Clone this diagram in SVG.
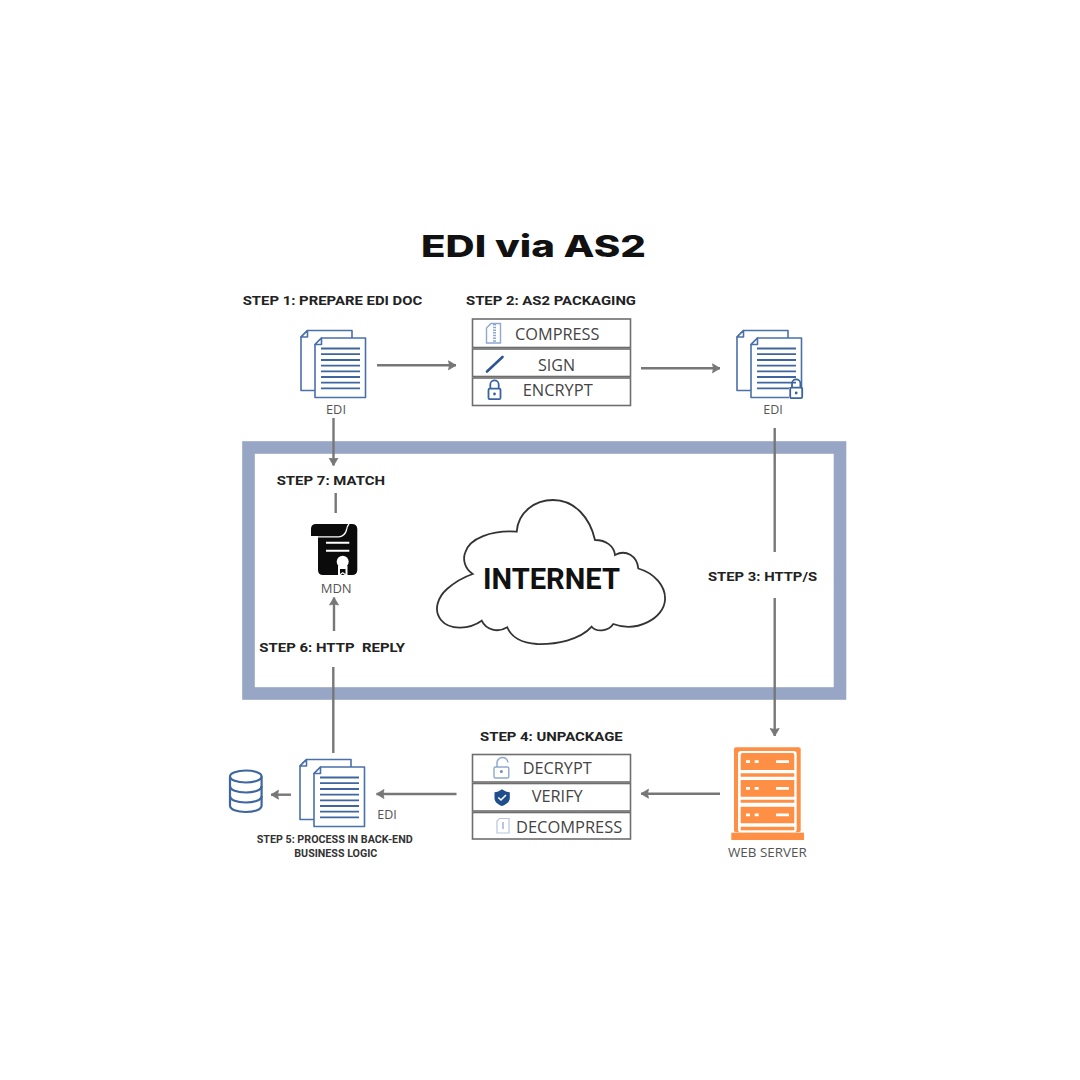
<svg xmlns="http://www.w3.org/2000/svg" width="1080" height="1080" viewBox="0 0 1080 1080">
<style>
.step{font-family:"Roboto","Liberation Sans",sans-serif;font-weight:700;font-size:13.6px;fill:#222;white-space:pre}
.small{font-family:"Roboto","Liberation Sans",sans-serif;font-weight:700;font-size:10px;fill:#333}
.cap{font-family:"Open Sans","Liberation Sans",sans-serif;font-size:12px;fill:#555}
.row{font-family:"Open Sans","Liberation Sans",sans-serif;font-size:16px;fill:#444}
.box{fill:#fff;stroke:#6e6e6e;stroke-width:1.6}
.conn{fill:none;stroke:#777;stroke-width:2.4}
.page{fill:#fff;stroke:#4a70aa;stroke-width:1.6;stroke-linejoin:round}
.rule{stroke:#3f669f;stroke-width:1.8}
.light{fill:#fff;stroke:#8ea8cf;stroke-width:1.4}
</style>
<defs>
<marker id="arrow" markerUnits="userSpaceOnUse" markerWidth="10" markerHeight="12" refX="8" refY="5" orient="auto">
<path d="M0.500 0.500L8 5L0.500 9.500L1.500 5Z" fill="#777" stroke="#777" stroke-width="0.800" stroke-linejoin="round"/>
</marker>
<symbol id="doc" overflow="visible" viewBox="0 0 1080 1080" width="1080" height="1080">
<path class="page" d="M307.500 330.500H352V390.500H301V337Z"/>
<path class="page" d="M307.500 330.500V337H301Z"/>
<path class="page" d="M321.500 338H365.500V397.500H315V344.500Z"/>
<path class="page" d="M321.500 338V344.500H315Z"/>
<path class="rule" d="M321 348.500H360M321 354.200H360M321 360H360M321 365.700H360M321 371.400H360M321 377H360M321 382.700H360M321 388.400H360"/>
</symbol>
<symbol id="lock" overflow="visible" viewBox="0 0 1080 1080" width="1080" height="1080">
<path d="M-4.200 1V-3.400A4.200 4.200 0 0 1 4.200 -3.400V1" fill="none" stroke="#3a63a0" stroke-width="1.800"/>
<rect x="-6" y="0.600" width="12" height="10.600" rx="1.400" fill="#fff" stroke="#3a63a0" stroke-width="1.800"/>
<circle cx="0" cy="6" r="1.400" fill="#3a63a0"/>
</symbol>
</defs>
<rect width="1080" height="1080" fill="#fff"/>
<g id="title"><text x="421" y="256.500" font-family="Inter,'Liberation Sans',sans-serif" font-weight="800" font-size="30" fill="#111" textLength="225" lengthAdjust="spacingAndGlyphs">EDI via AS2</text></g>
<g id="internet-frame"><rect x="248.500" y="447.500" width="591.500" height="246" fill="#fff" stroke="#97a6c4" stroke-width="12.600"/></g>
<g id="cloud">
<path d="M472.700 574C464 568 463 559 465 553C469 538 492 530 516.700 531.700C518 512 535 500 553 500C575 500 590 518 595 540C606 540 614 546 615 555C626 549 637 556 638.300 568.500C654 573 666 586 665 600C664 618 637 633 613.300 624C608 632 596 632 591.700 626.700C580 640 556 644.500 537 644C522 643 511 637 507.300 627.300C498 633 486 630 481.700 620.700C470 629 450 631 441 620C433 610 438 597 447 589C455 582 464 577 472.700 574Z" fill="#fff" stroke="#333" stroke-width="1.800"/>
<text x="483" y="588.500" font-family="Roboto,'Liberation Sans',sans-serif" font-weight="700" font-size="29.500" fill="#111" textLength="137" lengthAdjust="spacingAndGlyphs">INTERNET</text>
</g>
<g id="connectors">
<path class="conn" d="M377 365.300H456" marker-end="url(#arrow)"/>
<path class="conn" d="M641 368.300H720" marker-end="url(#arrow)"/>
<path class="conn" d="M774.700 428V552"/>
<path class="conn" d="M774.700 598V736" marker-end="url(#arrow)"/>
<path class="conn" d="M720 793.700H641" marker-end="url(#arrow)"/>
<path class="conn" d="M456.500 794H376.500" marker-end="url(#arrow)"/>
<path class="conn" d="M291 794.700H271" marker-end="url(#arrow)"/>
<path class="conn" d="M333.300 753V667"/>
<path class="conn" d="M334 631V597.500" marker-end="url(#arrow)"/>
<path class="conn" d="M333.500 418V465.500" marker-end="url(#arrow)"/>
<path class="conn" d="M335.700 493V513"/>
</g>
<g id="step1">
<text class="step" x="242.700" y="305" textLength="179.600" lengthAdjust="spacingAndGlyphs">STEP 1: PREPARE EDI DOC</text>
<use href="#doc"/>
<text class="cap" x="326" y="414" textLength="20" lengthAdjust="spacingAndGlyphs">EDI</text>
</g>
<g id="step2">
<text class="step" x="466" y="305" textLength="170" lengthAdjust="spacingAndGlyphs">STEP 2: AS2 PACKAGING</text>
<rect class="box" x="472.500" y="319" width="158" height="28.500"/>
<rect class="box" x="472.500" y="349" width="158" height="27.500"/>
<rect class="box" x="472.500" y="378" width="158" height="27.500"/>
<path class="light" d="M491 323.500H500.500V343H486.500V328Z"/>
<path d="M494.500 324V343" stroke="#8ea8cf" stroke-width="3" stroke-dasharray="1.500 1.200"/>
<path d="M487 371.500L502.500 357" stroke="#2f5597" stroke-width="2.600" stroke-linecap="round"/>
<use href="#lock" x="494.500" y="388"/>
<text class="row" x="515" y="339.500" textLength="84.500" lengthAdjust="spacingAndGlyphs">COMPRESS</text>
<text class="row" x="538" y="371" textLength="37" lengthAdjust="spacingAndGlyphs">SIGN</text>
<text class="row" x="522.700" y="396" textLength="70" lengthAdjust="spacingAndGlyphs">ENCRYPT</text>
</g>
<g id="encrypted-edi">
<use href="#doc" x="436"/>
<rect x="789" y="388" width="14" height="11" fill="#fff"/>
<use href="#lock" x="796.200" y="387"/>
<text class="cap" x="763.300" y="414" textLength="19.500" lengthAdjust="spacingAndGlyphs">EDI</text>
</g>
<g id="step7"><text class="step" x="276.700" y="485" textLength="108.300" lengthAdjust="spacingAndGlyphs">STEP 7: MATCH</text></g>
<g id="mdn">
<path d="M311 536V529Q311 524 316 524H352Q357 524 357.300 529V570Q357.300 575 352 575H323Q318 575 318 570V536Z" fill="#0b0b0b"/>
<path d="M317 536.800H339Q345 536 346.500 530Q347 526 349 524" fill="none" stroke="#fff" stroke-width="1.300"/>
<path d="M326 542.700H349.300M326 550.700H349.300" stroke="#fff" stroke-width="2"/>
<circle cx="342.700" cy="561.700" r="6" fill="#fff"/>
<path d="M338 566V577L342.700 573.500L347.500 577V566Z" fill="#fff"/>
<path d="M340 569V574L342.700 572L345.500 574V569Z" fill="#0b0b0b"/>
<text class="cap" x="320.700" y="593" textLength="31" lengthAdjust="spacingAndGlyphs">MDN</text>
</g>
<g id="step6"><text class="step" x="259.300" y="652.300" textLength="145.700" lengthAdjust="spacingAndGlyphs" xml:space="preserve">STEP 6: HTTP  REPLY</text></g>
<g id="step3"><text class="step" x="708" y="581" textLength="109" lengthAdjust="spacingAndGlyphs">STEP 3: HTTP/S</text></g>
<g id="web-server">
<rect x="734" y="747.300" width="66.700" height="85" rx="2" fill="#ff8f44"/>
<rect x="738" y="751" width="58.700" height="81.500" rx="3" fill="#fff"/>
<path d="M740.700 755a2 2 0 0 1 2-2h49.600a2 2 0 0 1 2 2v15h-53.600ZM740.700 780h53.600v16.700h-53.600ZM740.700 806.700h53.600v16.600h-53.600ZM740.700 773.300h53.600v3.400h-53.600ZM740.700 799.800h53.600v3h-53.600ZM740.700 826.700h53.600v3.600h-53.600Z" fill="#ff8f44"/>
<rect x="731.300" y="832.700" width="72.700" height="7.300" fill="#ff8f44"/>
<path d="M746 761.700h4M754.700 761.700h4M776 761.700h13M746 788.300h4M754.700 788.300h4M776 788.300h13M746 814.800h4M754.700 814.800h4M776 814.800h13" stroke="#fff" stroke-width="2.800"/>
<text class="cap" x="728" y="856.700" textLength="78.700" lengthAdjust="spacingAndGlyphs">WEB SERVER</text>
</g>
<g id="step4">
<text class="step" x="480" y="741" textLength="142.700" lengthAdjust="spacingAndGlyphs">STEP 4: UNPACKAGE</text>
<rect class="box" x="472.500" y="754.500" width="158" height="27.500"/>
<rect class="box" x="472.500" y="783.500" width="158" height="27.500"/>
<rect class="box" x="472.500" y="812.500" width="158" height="26.500"/>
<path d="M497 768V763.500A5.500 5.500 0 0 1 508 762.500" fill="none" stroke="#8ea8cf" stroke-width="1.500"/>
<rect x="494" y="767" width="14.800" height="11" rx="1.500" class="light"/>
<circle cx="501.400" cy="771.500" r="1.500" fill="#6f8fc0"/>
<path d="M502 789.300C499 791.500 497 792 494.500 792.300V798C494.500 802 498 804.500 502 806C506 804.500 509.800 802 509.800 798V792.300C507 792 505 791.500 502 789.300Z" fill="#1f4e8c"/>
<path d="M498.300 797.500L501 800L506 795" fill="none" stroke="#fff" stroke-width="1.600"/>
<path d="M499.500 818.500H509V833H497V821Z" fill="#fff" stroke="#b5c6de" stroke-width="1.200"/>
<path d="M503 822V829" stroke="#6f8fc0" stroke-width="1"/>
<text class="row" x="522.700" y="774.300" textLength="69" lengthAdjust="spacingAndGlyphs">DECRYPT</text>
<text class="row" x="531.700" y="801.700" textLength="51" lengthAdjust="spacingAndGlyphs">VERIFY</text>
<text class="row" x="516" y="833" textLength="106.300" lengthAdjust="spacingAndGlyphs">DECOMPRESS</text>
</g>
<g id="step5">
<use href="#doc" x="-1" y="429"/>
<text class="cap" x="377.300" y="819" textLength="19.400" lengthAdjust="spacingAndGlyphs">EDI</text>
<text class="small" x="256.700" y="843.300" textLength="156" lengthAdjust="spacingAndGlyphs">STEP 5: PROCESS IN BACK-END</text>
<text class="small" x="294.300" y="856.700" textLength="83" lengthAdjust="spacingAndGlyphs">BUSINESS LOGIC</text>
</g>
<g id="database" fill="none" stroke="#3e669f" stroke-width="2.200">
<ellipse cx="245.800" cy="776.500" rx="15.800" ry="6"/>
<path d="M230 776.500V805.500C230 809.500 237 812 245.800 812C254.600 812 261.600 809.500 261.600 805.500V776.500"/>
<path d="M230 786C230 790 237 792.500 245.800 792.500C254.600 792.500 261.600 790 261.600 786"/>
<path d="M230 796C230 800 237 802.500 245.800 802.500C254.600 802.500 261.600 800 261.600 796"/>
</g>
</svg>
